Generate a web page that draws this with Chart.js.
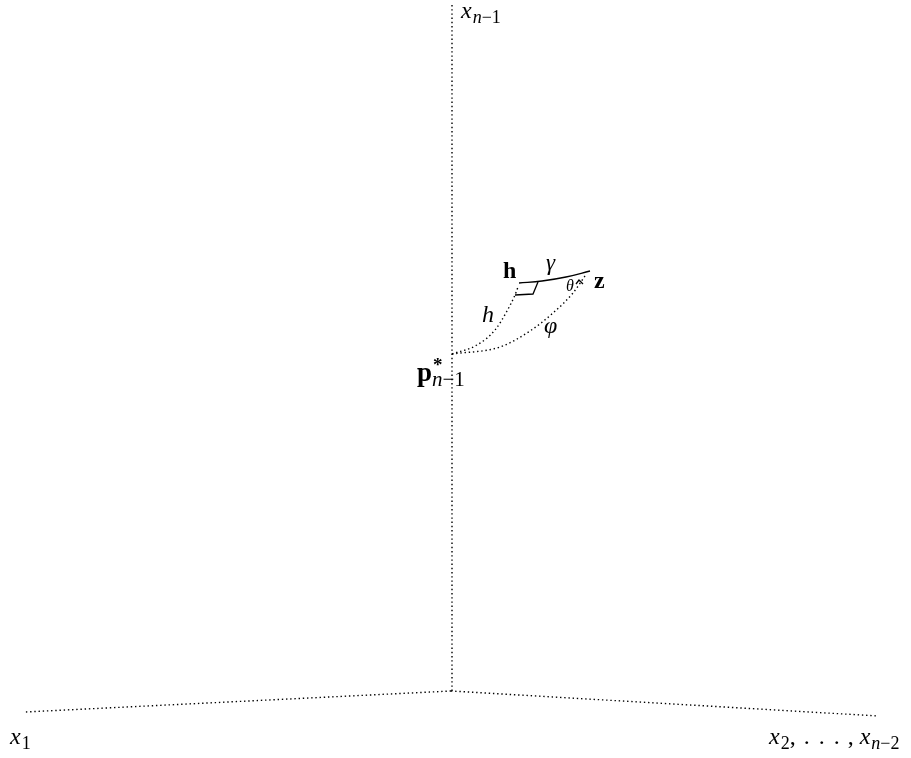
<!DOCTYPE html>
<html><head><meta charset="utf-8">
<script src="https://cdn.jsdelivr.net/npm/chart.js@4/dist/chart.umd.min.js"></script>
<style>html,body{margin:0;padding:0;background:#fff;}canvas{display:block;}</style>
</head><body>
<canvas id="c" width="911" height="758"></canvas>
<script>
// Diagram geometry (data space: x 0..911, y 0..758, y downward)
const axisVertical = [{x:452,y:5},{x:452,y:691}];
const axisLeft = [{x:451,y:691},{x:25,y:712}];
const axisRight = [{x:451,y:691},{x:878,y:716}];
const phiCurve = [{x:452,y:354},{x:500,y:347},{x:530,y:331},{x:553,y:313},{x:573,y:293},{x:585,y:276}];
const hCurve = [{x:452,y:354},{x:477,y:345},{x:495,y:330},{x:507,y:311},{x:515,y:295},{x:518,y:287}];
const gammaCurve = [{x:519,y:283},{x:542,y:281},{x:566,y:277},{x:590,y:271}];
const rightAngle = [{x:538,y:282},{x:533,y:294},{x:515,y:295}];
const thetaMark = [{x:576,y:284},{x:579,y:280},{x:583,y:284}];

// Text labels
const labelMain = ['x','h','γ','z','θ','h','φ','p','x','x'];
const labelSub  = ['n−1','','','','','','','n−1','1','2, . . . , x'];
const labelSup  = ['','','','','','','','*','',''];
const labelX    = [461,503,546,594,566,482,544,417,10,769];
const labelY    = [18,278,270,288,291,322,333,381,744,744];
const labelStyle= ['it','bold','it','bold','it','it','it','bold','it','it'];
const labelSize = [24,24,23,24,16,24,24,27,24,24];

const dotted = {borderColor:'#000',borderWidth:1.4,borderDash:[1.4,2.8],pointRadius:0,showLine:true,fill:false};
const solid = {borderColor:'#000',borderWidth:1.3,pointRadius:0,showLine:true,fill:false};

const SERIF = '"Liberation Serif", "DejaVu Serif", serif';
function fontFor(style,size){
  if(style==='bold') return 'bold '+size+'px '+SERIF;
  return 'italic '+size+'px '+SERIF;
}

const labelPlugin = {
  id:'labels',
  afterDatasetsDraw(chart){
    const ctx = chart.ctx, xs = chart.scales.x, ys = chart.scales.y;
    ctx.save();
    ctx.fillStyle = '#000';
    ctx.textBaseline = 'alphabetic';
    for(let i=0;i<labelMain.length;i++){
      const px = xs.getPixelForValue(labelX[i]);
      const py = ys.getPixelForValue(labelY[i]);
      const sz = labelSize[i];
      ctx.font = fontFor(labelStyle[i], sz);
      ctx.fillText(labelMain[i], px, py);
      const w = ctx.measureText(labelMain[i]).width;
      const ex = px + w + 1;
      if(labelSup[i]){
        ctx.font = 'bold '+Math.round(sz*0.72)+'px '+SERIF;
        ctx.fillText(labelSup[i], ex, py - sz*0.38);
      }
      if(labelSub[i]){
        const s = labelSub[i];
        const subSz = Math.round(sz*0.76);
        const sy = py + sz*0.2;
        if(i===9){
          ctx.font = subSz+'px '+SERIF;
          ctx.fillText('2', ex, sy);
          let cx = ex + ctx.measureText('2').width;
          ctx.font = sz+'px '+SERIF;
          const parts = [',', '.', '.', '.', ','];
          const gaps = [8, 9, 9, 8, 6];
          for(let k=0;k<parts.length;k++){
            ctx.fillText(parts[k], cx, py);
            cx += ctx.measureText(parts[k]).width + gaps[k];
          }
          ctx.font = 'italic '+sz+'px '+SERIF;
          ctx.fillText('x', cx, py);
          cx += ctx.measureText('x').width + 1;
          ctx.font = 'italic '+subSz+'px '+SERIF;
          ctx.fillText('n', cx, sy);
          cx += ctx.measureText('n').width;
          ctx.font = subSz+'px '+SERIF;
          ctx.fillText('−2', cx, sy);
        } else if(s.length===1){
          ctx.font = subSz+'px '+SERIF;
          ctx.fillText(s, ex, sy);
        } else {
          ctx.font = 'italic '+subSz+'px '+SERIF;
          const first = s.charAt(0);
          const sxp = labelSup[i] ? ex - 1 : ex;
          ctx.fillText(first, sxp, sy);
          const fw = ctx.measureText(first).width;
          ctx.font = subSz+'px '+SERIF;
          ctx.fillText(s.slice(1), sxp+fw, sy);
        }
      }
    }
    ctx.restore();
  }
};

new Chart(document.getElementById('c'), {
  type:'scatter',
  data:{datasets:[
    Object.assign({data:axisVertical}, dotted),
    Object.assign({data:axisLeft}, dotted),
    Object.assign({data:axisRight}, dotted),
    Object.assign({data:phiCurve, tension:0.4, cubicInterpolationMode:'monotone'}, dotted),
    Object.assign({data:hCurve, tension:0.4, cubicInterpolationMode:'monotone'}, dotted),
    Object.assign({data:gammaCurve, tension:0.4}, solid),
    Object.assign({data:rightAngle}, solid),
    Object.assign({data:thetaMark, borderWidth:0.9}, solid)
  ]},
  options:{
    responsive:false, animation:false,
    layout:{padding:0},
    plugins:{legend:{display:false},tooltip:{enabled:false}},
    scales:{
      x:{type:'linear',min:0,max:911,display:false},
      y:{type:'linear',min:0,max:758,reverse:true,display:false}
    }
  },
  plugins:[labelPlugin]
});
</script>
</body></html>
